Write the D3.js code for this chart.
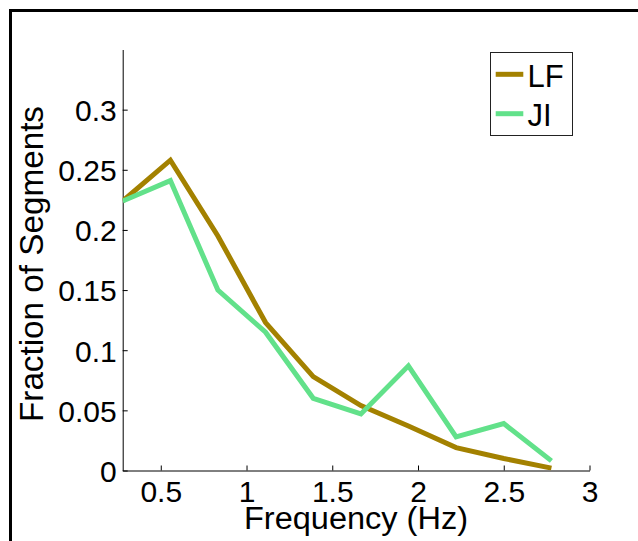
<!DOCTYPE html>
<html>
<head>
<meta charset="utf-8">
<script src="https://cdn.jsdelivr.net/npm/d3@7"></script>
<style>
  body { margin: 0; background: #fff; }
  text { font-family: Arial, "Liberation Sans", Helvetica, sans-serif; fill: #000; }
</style>
</head>
<body>
<div id="chart"></div>
<script>
// frequency bin centres (Hz) and fraction of segments per series
const freq = [0.278, 0.556, 0.833, 1.111, 1.389, 1.667, 1.944, 2.222, 2.5, 2.778];
const lfValues = [0.224, 0.258, 0.195, 0.123, 0.078, 0.054, 0.037, 0.019, 0.010, 0.002];
const jiValues = [0.224, 0.241, 0.150, 0.115, 0.060, 0.047, 0.087, 0.028, 0.039, 0.008];
const seriesNames = ["LF", "JI"];
const xTicks = [0.5, 1, 1.5, 2, 2.5, 3];
const yTicks = [0, 0.05, 0.1, 0.15, 0.2, 0.25, 0.3];

const WIDTH = 638, HEIGHT = 541;
const colors = { LF: "#a38100", JI: "#62e18a" };

const svg = d3.select("#chart").append("svg")
  .attr("width", WIDTH).attr("height", HEIGHT);

// figure frame
svg.append("rect")
  .attr("x", 10.5).attr("y", 10.5)
  .attr("width", 700).attr("height", 600)
  .attr("fill", "none").attr("stroke", "#000").attr("stroke-width", 3);

const x = d3.scaleLinear().domain([freq[0], 3]).range([122.7, 589.5]);
const y = d3.scaleLinear().domain([0, 0.35]).range([470.5, 49.5]);

svg.append("clipPath").attr("id", "plotclip")
  .append("rect")
  .attr("x", x.range()[0]).attr("y", y.range()[1])
  .attr("width", x.range()[1] - x.range()[0])
  .attr("height", y.range()[0] - y.range()[1]);

const fmt = d => d === 0 ? "0" : String(+d.toFixed(2));

const xAxis = svg.append("g")
  .attr("transform", `translate(0,${y(0)})`)
  .call(d3.axisBottom(x).tickValues(xTicks).tickFormat(fmt)
    .tickSizeInner(-5).tickSizeOuter(0).tickPadding(10));

const yAxis = svg.append("g")
  .attr("transform", `translate(${x.range()[0]},0)`)
  .call(d3.axisLeft(y).tickValues(yTicks).tickFormat(fmt)
    .tickSizeInner(-5).tickSizeOuter(0).tickPadding(6));

[xAxis, yAxis].forEach(g => {
  g.select(".domain").attr("stroke", "#000").attr("stroke-width", 1);
  g.selectAll(".tick line").attr("stroke", "#000");
  g.selectAll(".tick text").attr("font-size", 30)
    .attr("font-family", "Arial, 'Liberation Sans', sans-serif");
});
yAxis.selectAll(".tick text").attr("dy", "0.36em");

const line = d3.line()
  .x((d, i) => x(freq[i]))
  .y(d => y(d));

const plot = svg.append("g").attr("clip-path", "url(#plotclip)");
[["LF", lfValues], ["JI", jiValues]].forEach(([name, vals]) => {
  plot.append("path")
    .datum(vals)
    .attr("d", line)
    .attr("fill", "none")
    .attr("stroke", colors[name])
    .attr("stroke-width", 5);
});

// axis labels
svg.append("text")
  .attr("x", 356).attr("y", 529)
  .attr("text-anchor", "middle")
  .attr("font-size", 31)
  .attr("textLength", 224)
  .attr("lengthAdjust", "spacingAndGlyphs")
  .text("Frequency (Hz)");

svg.append("text")
  .attr("transform", "translate(43,264) rotate(-90)")
  .attr("text-anchor", "middle")
  .attr("font-size", 33)
  .attr("textLength", 316)
  .attr("lengthAdjust", "spacingAndGlyphs")
  .text("Fraction of Segments");

// legend
const legend = svg.append("g");
legend.append("rect")
  .attr("x", 490.5).attr("y", 52.5)
  .attr("width", 82).attr("height", 83)
  .attr("fill", "#fff").attr("stroke", "#222").attr("stroke-width", 1);

seriesNames.forEach((name, i) => {
  const ly = 74.3 + i * 39.4;
  legend.append("line")
    .attr("x1", 495.7).attr("x2", 523.3)
    .attr("y1", ly).attr("y2", ly)
    .attr("stroke", colors[name]).attr("stroke-width", 5);
  legend.append("text")
    .attr("x", 527.5).attr("y", ly + 12.4)
    .attr("font-size", 31)
    .text(name);
});
</script>
</body>
</html>
